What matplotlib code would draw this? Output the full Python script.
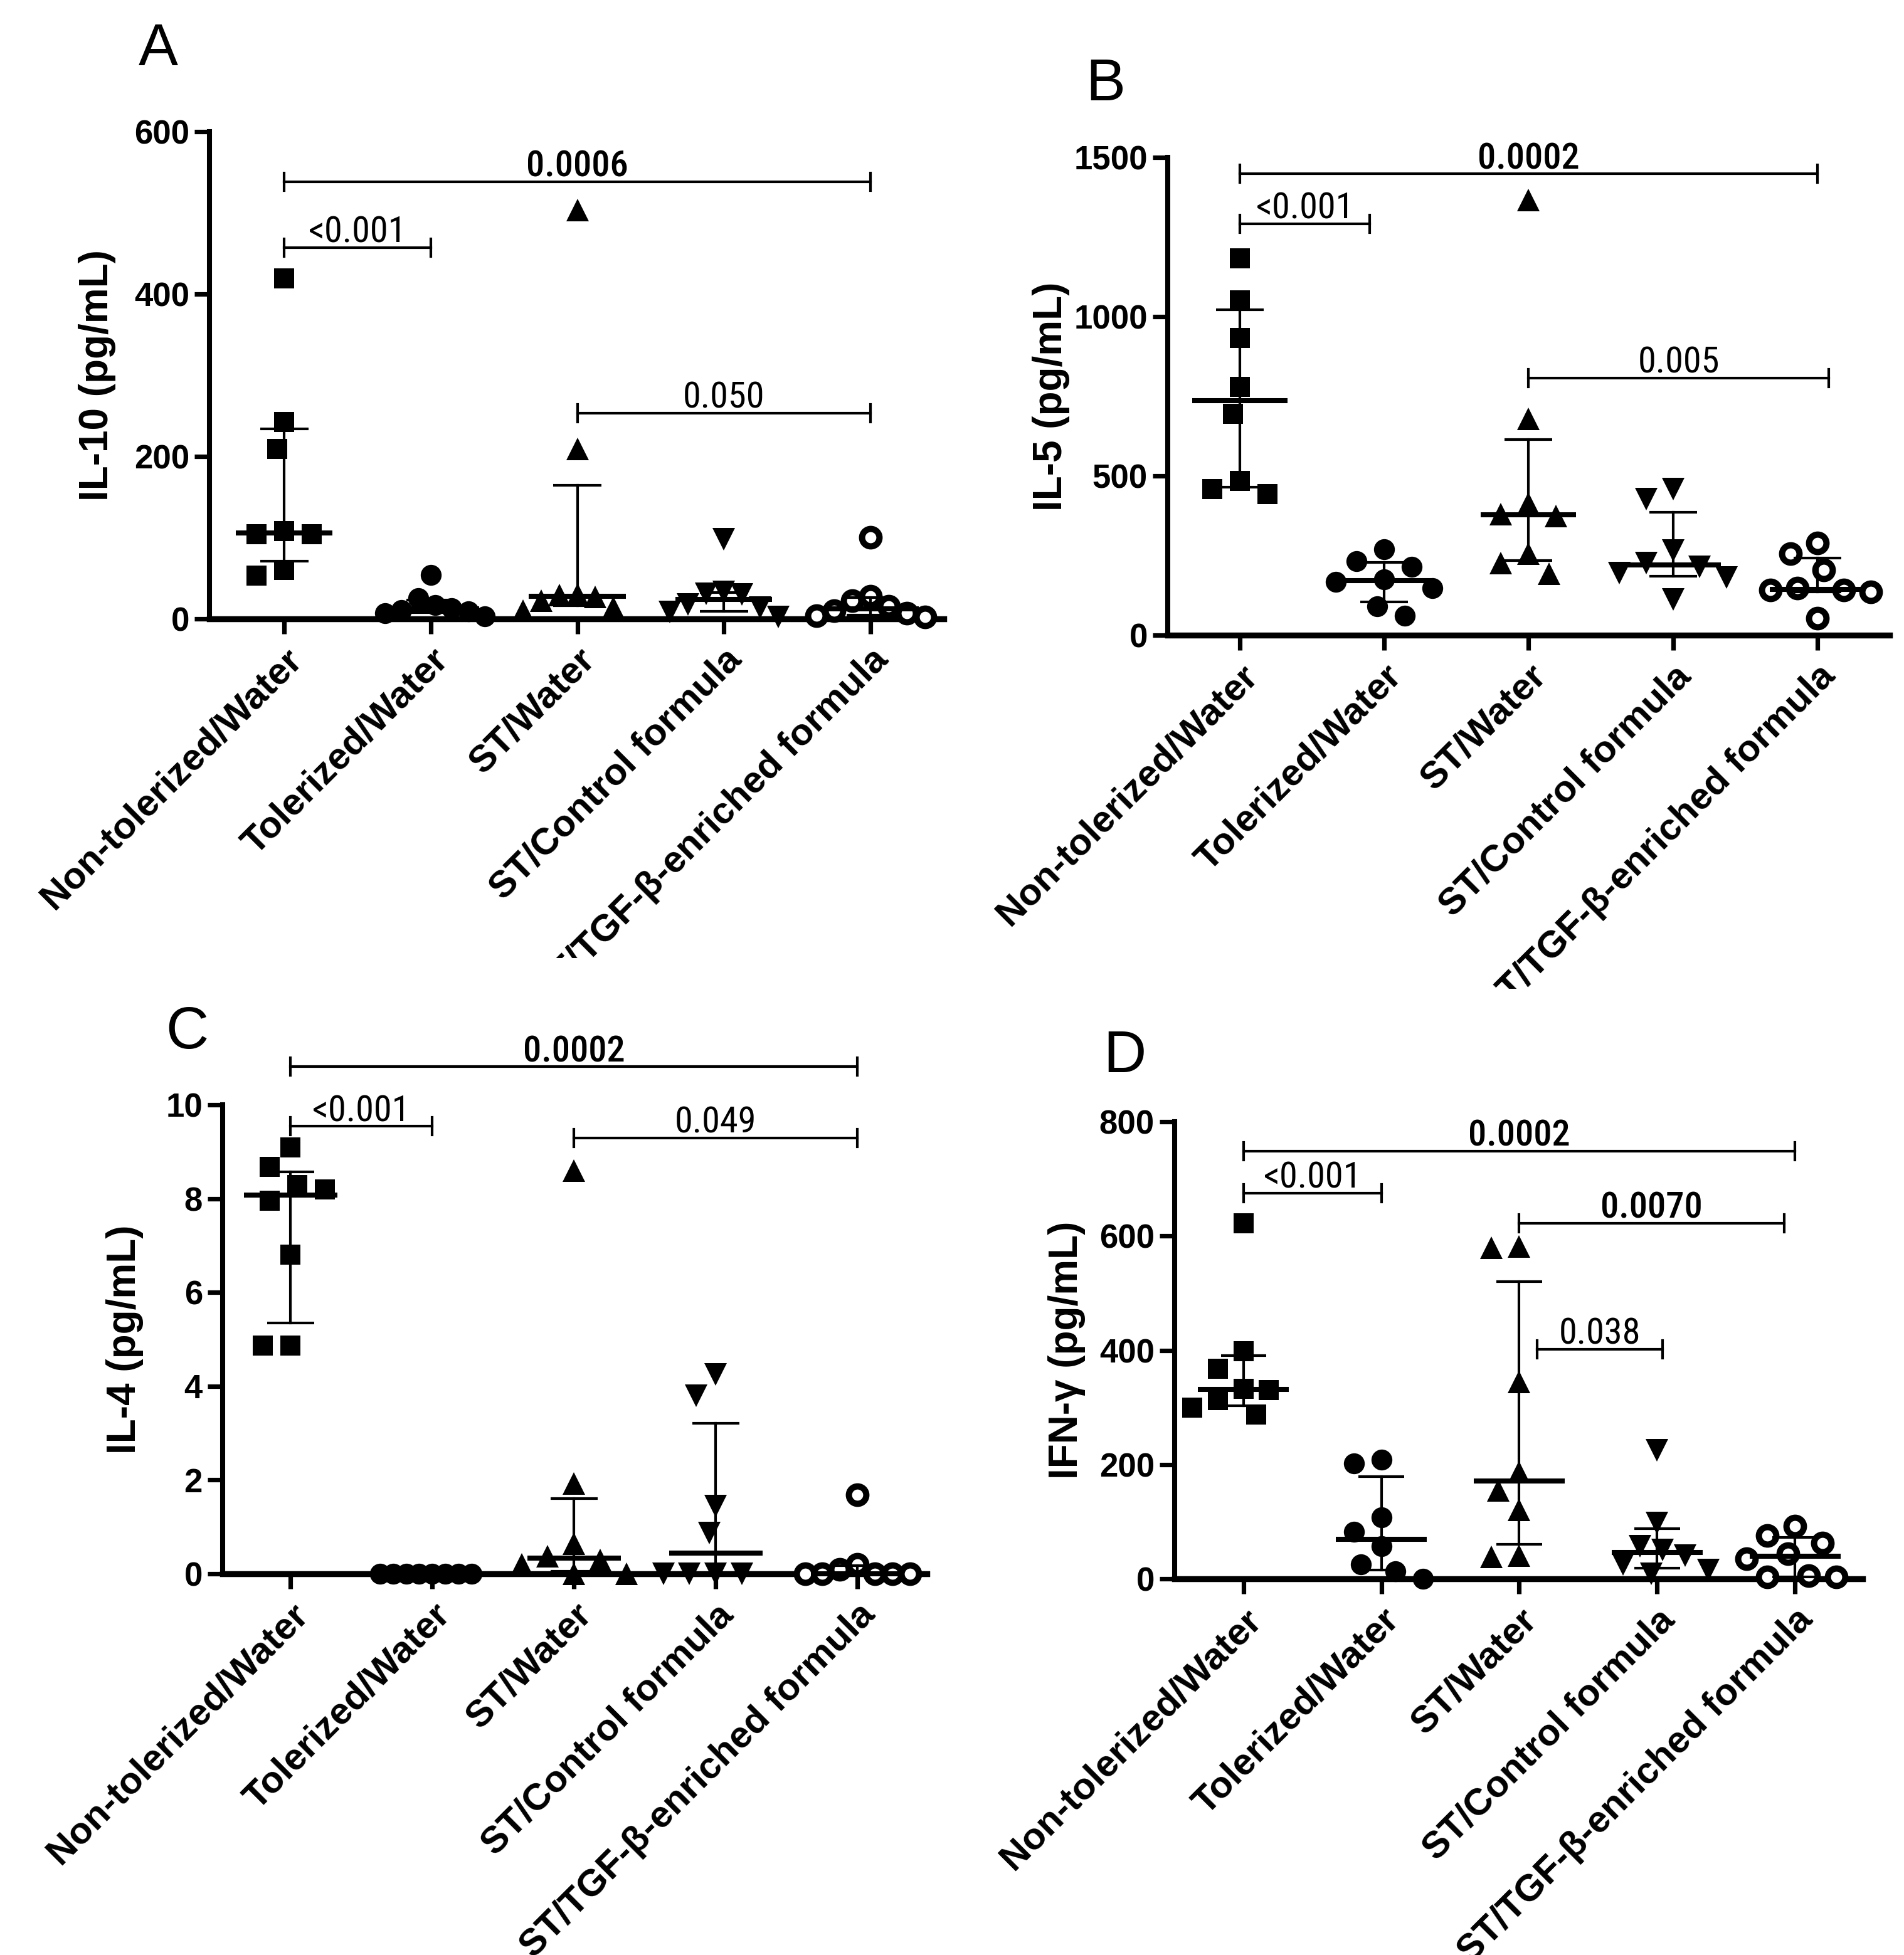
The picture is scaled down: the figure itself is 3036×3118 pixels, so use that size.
import numpy as np
import matplotlib
matplotlib.use('Agg')
import matplotlib.pyplot as plt
from matplotlib.transforms import Bbox, TransformedBbox

# groups on the x axis
groups = ['Non-tolerized/Water', 'Tolerized/Water', 'ST/Water',
          'ST/Control formula', 'ST/TGF-β-enriched formula']

# A - IL-10 (pg/mL)
il10_nontol = [419, 242, 209, 108, 104, 104, 60, 53]
il10_tol = [54, 25, 17, 13, 11, 9, 7, 3]
il10_st_water = [503, 209, 30, 29, 27, 22, 14, 10]
il10_st_control = [98, 33, 31, 30, 18, 14, 8, 2]
il10_st_tgf = [100, 28, 22, 15, 10, 7, 4, 2]

# B - IL-5 (pg/mL)
il5_nontol = [1183, 1051, 933, 779, 695, 485, 459, 442]
il5_tol = [269, 232, 215, 176, 168, 147, 91, 62]
il5_st_water = [1366, 680, 414, 380, 375, 255, 227, 193]
il5_st_control = [459, 427, 266, 227, 215, 195, 181, 113]
il5_st_tgf = [289, 255, 204, 147, 142, 142, 135, 53]

# C - IL-4 (pg/mL)
il4_nontol = [9.09, 8.67, 8.29, 8.19, 7.95, 6.81, 4.86, 4.86]
il4_tol = [0, 0, 0, 0, 0, 0, 0, 0]
il4_st_water = [8.6, 1.93, 0.64, 0.38, 0.30, 0.2, 0.0, 0.0]
il4_st_control = [4.25, 3.8, 1.44, 0.87, 0, 0, 0, 0]
il4_st_tgf = [1.68, 0.2, 0.1, 0, 0, 0, 0, 0]

# D - IFN-gamma (pg/mL)
ifng_nontol = [622, 398, 368, 333, 330, 313, 300, 288]
ifng_tol = [209, 202, 108, 82, 57, 25, 13, 0]
ifng_st_water = [582, 579, 345, 187, 155, 121, 41, 39]
ifng_st_control = [225, 98, 57, 51, 41, 25, 16, 9]
ifng_st_tgf = [92, 76, 63, 44, 35, 6, 3, 3]

# p-value brackets: (from group, to group, height, label, bold)
br_il10 = [(0, 1, 457, '<0.001', False), (0, 4, 538, '0.0006', True),
           (2, 4, 253, '0.050', False)]
br_il5 = [(0, 0.9, 1291, '<0.001', False), (0, 4, 1448, '0.0002', True),
          (2, 4.08, 808, '0.005', False)]
br_il4 = [(0, 1, 9.54, '<0.001', False), (0, 4, 10.81, '0.0002', True),
          (2, 4, 9.29, '0.049', False)]
br_ifng = [(0, 1, 675, '<0.001', False), (0, 4, 749, '0.0002', True),
           (2, 3.92, 622, '0.0070', True), (2.13, 3.04, 402, '0.038', False)]

FIG_W, FIG_H, DPI = 3036, 3118, 200
NARROW = ['Roboto Condensed', 'Liberation Sans', 'DejaVu Sans']
SANS = ['Liberation Sans', 'DejaVu Sans']

markers = [dict(marker='s', ms=11.5, mfc='k', mec='k', mew=0),
           dict(marker='o', ms=12, mfc='k', mec='k', mew=0),
           dict(marker='^', ms=13, mfc='k', mec='k', mew=0),
           dict(marker='v', ms=13, mfc='k', mec='k', mew=0),
           dict(marker='o', ms=10, mfc='white', mec='k', mew=3.6)]

fig = plt.figure(figsize=(FIG_W / DPI, FIG_H / DPI), dpi=DPI)


def px_scale(ax):
    pos = ax.get_position()
    x0, x1 = ax.get_xlim()
    y0, y1 = ax.get_ylim()
    return pos.width * FIG_W / (x1 - x0), pos.height * FIG_H / (y1 - y0)


def swarm(vals, ax, d=44.0, max_half=0.37):
    # simple beeswarm offsets (in category units)
    xpx, ypx = px_scale(ax)
    vals = np.asarray(vals, float)
    offs = np.zeros(len(vals))
    placed = []
    steps = np.arange(0, 500, d / 4)
    cands = np.concatenate([[0], np.ravel(np.column_stack([-steps[1:], steps[1:]]))])
    for i in np.argsort(-vals, kind='stable'):
        y = vals[i] * ypx
        for c in cands:
            if all((c - px) ** 2 + (y - py) ** 2 >= d ** 2 for px, py in placed):
                break
        placed.append((c, y))
        offs[i] = c / xpx
    m = np.abs(offs).max()
    if m > max_half:
        offs *= max_half / m
    return offs


def panel(rect, xlim, data, ylim, yticks, ylabel, ylab_x, brackets,
          letter, letter_xy, clip_y=None):
    ax = fig.add_axes(rect)
    ax.set_xlim(*xlim)
    ax.set_ylim(*ylim)
    xpx, ypx = px_scale(ax)

    for i, vals in enumerate(data):
        vals = np.asarray(vals, float)
        offs = swarm(vals, ax)
        ax.plot(i + offs, vals, ls='none', clip_on=False, zorder=3, **markers[i])
        med = np.median(vals)
        q1, q3 = np.percentile(vals, [25, 75], method='weibull')
        ax.plot([i - 0.33, i + 0.33], [med, med], color='k', lw=2.9,
                solid_capstyle='butt', zorder=4, clip_on=False)
        if q3 > q1:
            ax.plot([i, i], [q1, q3], color='k', lw=1.5, zorder=4, clip_on=False)
            for q in (q1, q3):
                ax.plot([i - 0.165, i + 0.165], [q, q], color='k', lw=1.5,
                        solid_capstyle='butt', zorder=4, clip_on=False)

    cap = 14 / ypx
    for x1, x2, y, txt, bold in brackets:
        ax.plot([x1, x2], [y, y], color='k', lw=1.5, clip_on=False)
        for x in (x1, x2):
            ax.plot([x, x], [y - cap, y + cap], color='k', lw=1.5, clip_on=False)
        ax.annotate(txt, ((x1 + x2) / 2, y), xytext=(0, 3), textcoords='offset points',
                    ha='center', va='baseline', fontsize=21, family=NARROW,
                    fontweight=500 if bold else 'normal', annotation_clip=False)

    for s in ('top', 'right'):
        ax.spines[s].set_visible(False)
    ax.spines['left'].set_linewidth(2.9)
    ax.spines['bottom'].set_linewidth(3.4)
    ax.spines['bottom'].set_zorder(2)

    ax.set_yticks(yticks)
    ax.set_yticklabels([str(t) for t in yticks], fontsize=19, fontweight='bold',
                       family=SANS)
    ax.set_xticks(range(len(groups)))
    ax.set_xticklabels(groups, rotation=45, ha='right', va='top',
                       rotation_mode='anchor', fontsize=21.5, fontweight='bold',
                       family=SANS)
    ax.tick_params(axis='both', direction='out', length=8.5, width=2.6, color='k')
    ax.tick_params(axis='y', pad=3)
    ax.tick_params(axis='x', pad=5)

    ax.set_ylabel(ylabel, fontsize=23, fontweight='bold', family=SANS, va='center')
    ax.yaxis.set_label_coords(ylab_x, 0.5)

    fig.text(letter_xy[0] / FIG_W, 1 - letter_xy[1] / FIG_H, letter,
             fontsize=34, family=SANS, ha='center', va='center')

    if clip_y is not None:
        # the long last label is cut at the panel edge in the original figure
        box = TransformedBbox(Bbox.from_extents(0, 1 - clip_y / FIG_H, 1, 1),
                              fig.transFigure)
        for lab in ax.get_xticklabels():
            lab.set_clip_box(box)
            lab.set_clip_on(True)
    return ax


panel([0.1100, 0.6835, 0.3857, 0.2492], (-0.51, 4.50),
      [il10_nontol, il10_tol, il10_st_water, il10_st_control, il10_st_tgf],
      (0, 600), [0, 200, 400, 600], 'IL-10 (pg/mL)', -0.153, br_il10,
      'A', (252, 80), clip_y=1528)

panel([0.6133, 0.6751, 0.3791, 0.2444], (-0.50, 4.50),
      [il5_nontol, il5_tol, il5_st_water, il5_st_control, il5_st_tgf],
      (0, 1500), [0, 500, 1000, 1500], 'IL-5 (pg/mL)', -0.162, br_il5,
      'B', (1763, 135), clip_y=1577)

panel([0.1169, 0.1950, 0.3699, 0.2399], (-0.48, 4.49),
      [il4_nontol, il4_tol, il4_st_water, il4_st_control, il4_st_tgf],
      (0, 10), [0, 2, 4, 6, 8, 10], 'IL-4 (pg/mL)', -0.139, br_il4,
      'C', (298, 1648))

panel([0.6169, 0.1924, 0.3613, 0.2338], (-0.50, 4.49),
      [ifng_nontol, ifng_tol, ifng_st_water, ifng_st_control, ifng_st_tgf],
      (0, 800), [0, 200, 400, 600, 800], 'IFN-γ (pg/mL)', -0.157, br_ifng,
      'D', (1793, 1686))

fig.savefig('out.png', dpi=DPI)
